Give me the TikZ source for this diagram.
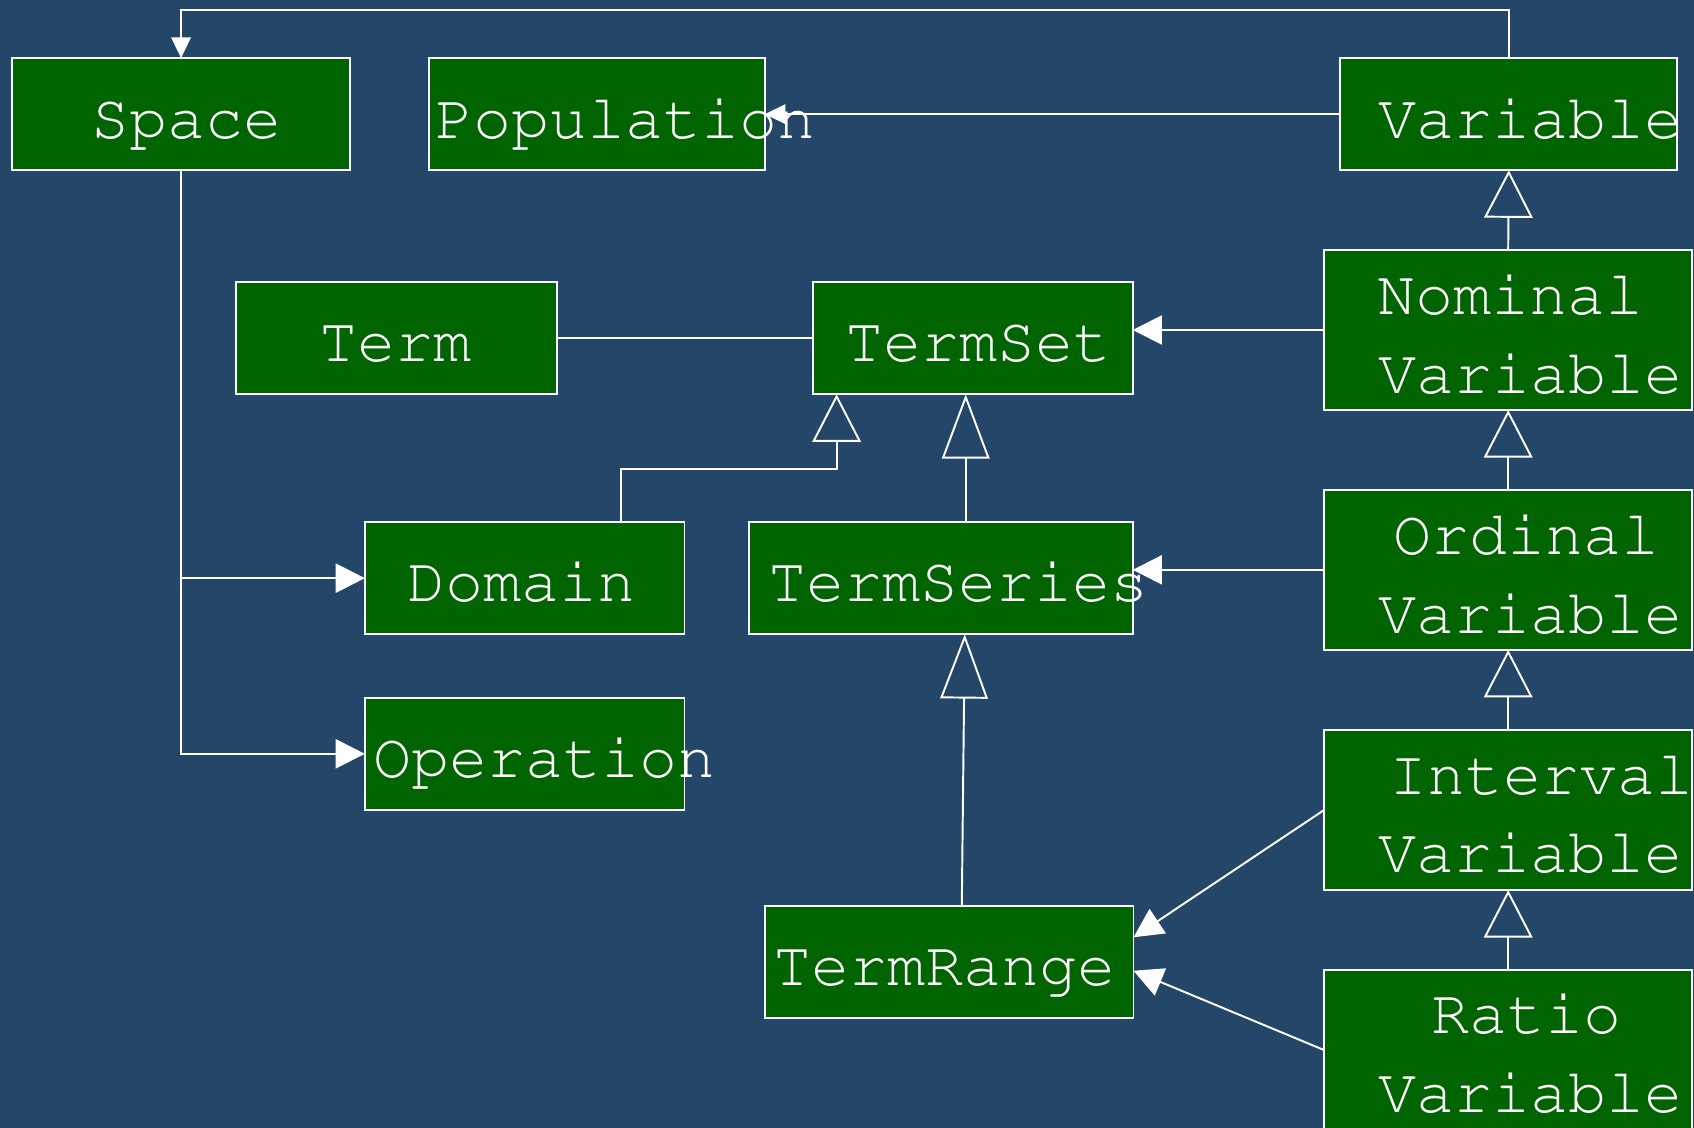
\documentclass[tikz,border=0pt]{standalone}
\usepackage[T1]{fontenc}
\usetikzlibrary{arrows.meta,calc}
\definecolor{bgblue}{RGB}{36,70,105}
\definecolor{boxgreen}{RGB}{0,100,0}
\newcommand\crfont{\fontencoding{T1}\fontfamily{pcr}\fontseries{m}\fontshape{n}\fontsize{58.67}{70}\selectfont}
\tikzset{
  cls/.style={draw=white, fill=boxgreen, line width=1.8pt, inner sep=0pt, outer sep=0pt, anchor=north west},
  lbl/.style={text=white, font=\crfont, inner sep=0pt, anchor=base},
  plain/.style={draw=white, line width=1.8pt},
  assoc/.style={plain, -{Triangle[length=27pt, width=27pt]}},
  assocS/.style={plain, -{Triangle[length=19pt, width=18pt]}},
  gen/.style={plain, -{Triangle[open, length=44pt, width=45pt]}},
  genT/.style={plain, -{Triangle[open, length=59.5pt, width=44pt]}},
}
\begin{document}
\begin{tikzpicture}[x=1pt, y=-1pt]
\useasboundingbox (0,0) rectangle (1568,1044);
\clip (0,0) rectangle (1568,1044);
\fill[bgblue] (0,0) rectangle (1568,1044);

% class boxes
\node[cls, minimum width=312.2pt, minimum height=103.9pt] (space)   at (11.5,53.7) {};
\node[cls, minimum width=311pt,   minimum height=103.9pt] (pop)     at (397,53.7) {};
\node[cls, minimum width=311.9pt, minimum height=103.9pt] (var)     at (1240.6,53.7) {};
\node[cls, minimum width=297pt,   minimum height=104pt]   (term)    at (218.8,261) {};
\node[cls, minimum width=296.4pt, minimum height=104pt]   (tset)    at (752.1,261) {};
\node[cls, minimum width=340.8pt, minimum height=148.1pt] (nom)     at (1225.6,231.4) {};
\node[cls, minimum width=295.9pt, minimum height=103.9pt] (dom)     at (337.7,483.2) {};
\node[cls, minimum width=355.4pt, minimum height=103.9pt] (tseries) at (693.1,483.2) {};
\node[cls, minimum width=340.8pt, minimum height=148.1pt] (ord)     at (1225.6,453.4) {};
\node[cls, minimum width=295.9pt, minimum height=103.9pt] (oper)    at (337.7,645.8) {};
\node[cls, minimum width=340.9pt, minimum height=103.9pt] (trange)  at (708.3,838.6) {};
\node[cls, minimum width=340.8pt, minimum height=148.1pt] (intv)    at (1225.6,675.7) {};
\node[cls, minimum width=340.8pt, minimum height=148.1pt] (ratio)   at (1225.6,897.9) {};

% connectors
\coordinate (top) at (0,9.6);
\draw[assocS] (var.north) -- (var.north |- top) -- (space.north |- top) -- (space.north);
\draw[assocS] (var.west) -- (pop.east);
\draw[assoc] (space.south) |- (oper.west);
\draw[assoc] (space.south |- dom.west) -- (dom.west);
\draw[plain] (term.east) -- (tset.west);
\draw[assoc] (nom.west) -- (nom.west -| tset.east);
\draw[assoc] (ord.west) -- (ord.west -| tseries.east);
\draw[assoc] (intv.west) -- ([yshift=23pt]trange.east);
\draw[assoc] (ratio.west) -- ([yshift=-8pt]trange.east);

\draw[gen] (nom.north) -- (var.south);
\draw[gen] (ord.north) -- (nom.south);
\draw[gen] (intv.north) -- (ord.south);
\draw[gen] (ratio.north) -- (intv.south);
\draw[gen] ([xshift=237.5pt]dom.north west) |- ([xshift=22.3pt,yshift=-68.8pt]tset.south west) -- ([xshift=22.3pt]tset.south west);
\draw[genT] ([xshift=23.1pt]tseries.north) -- ([xshift=23.1pt]tseries.north |- tset.south);
\draw[genT] ([xshift=11.5pt]trange.north) -- ([xshift=22.2pt]tseries.south);

% labels
\node[lbl] (spaceT)   at (172.4,128) {Space};
\node[lbl] (popT)     at (578.8,128) {Population};
\node[lbl] (varT)     at (1417,128) {Variable};
\node[lbl] (termT)    at (366.3,335) {Term};
\node[lbl] (tsetT)    at (905.5,335) {TermSet};
\node[lbl] (nomT)     at (1398.3,291) {Nominal};
\node[lbl] (nomV)     at (1417,364) {Variable};
\node[lbl] (domT)     at (482.8,557) {Domain};
\node[lbl] (tseriesT) at (887.3,557) {TermSeries};
\node[lbl] (ordT)     at (1413,513) {Ordinal};
\node[lbl] (ordV)     at (1417,586) {Variable};
\node[lbl] (operT)    at (504,720) {Operation};
\node[lbl] (trangeT)  at (874.4,912.6) {TermRange};
\node[lbl] (intvT)    at (1426.8,735) {Interval};
\node[lbl] (intvV)    at (1417,808) {Variable};
\node[lbl] (ratioT)   at (1412.7,957) {Ratio};
\node[lbl] (ratioV)   at (1417,1030) {Variable};
\end{tikzpicture}
\end{document}
